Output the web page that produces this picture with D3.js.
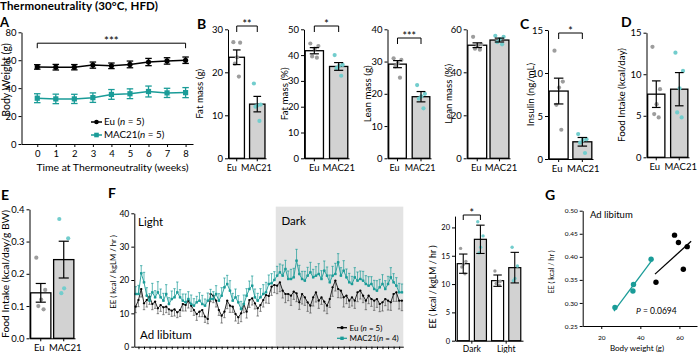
<!DOCTYPE html>
<html lang="en">
<head>
<meta charset="utf-8">
<title>Thermoneutrality (30°C, HFD)</title>
<script src="https://d3js.org/d3.v7.min.js"></script>
<style>
  body { margin: 0; background: #fff; }
  svg { display: block; font-family: Lato, "Liberation Sans", sans-serif; }
</style>
</head>
<body>
<svg id="fig" width="698" height="353"></svg>
<script>
// ---------- data ----------
var groups = ["Eu", "MAC21"];

// A: body weight over time
var weeks = [0, 1, 2, 3, 4, 5, 6, 7, 8];
var bwEu = [55.2, 55.0, 55.0, 56.5, 56.0, 57.0, 58.7, 59.5, 60.0];
var bwEuSem = [1.6, 2.0, 1.9, 2.2, 2.0, 2.4, 2.6, 2.3, 2.3];
var bwMac = [32.8, 32.3, 32.3, 33.2, 35.5, 36.0, 37.6, 36.6, 36.8];
var bwMacSem = [3.2, 3.4, 3.3, 3.4, 3.5, 3.5, 3.9, 3.3, 3.6];

// B: body composition
var fatG = [23.5, 12.6], fatGSem = [1.7, 1.8];
var fatGDots = [[27.0, 26.9, 23.5, 22.0, 19.0], [17.4, 12.5, 12.3, 12.0, 8.7]];
var fatPct = [41.7, 35.6], fatPctSem = [1.2, 1.5];
var fatPctDots = [[44.5, 43.5, 42.5, 39.5, 39.0], [40.0, 36.2, 35.8, 35.0, 32.0]];
var leanG = [29.2, 19.1], leanGSem = [1.1, 1.6];
var leanGDots = [[31.0, 30.5, 29.5, 28.5, 25.0], [22.7, 20.0, 19.2, 18.5, 15.5]];
var leanPct = [52.6, 55.0], leanPctSem = [1.1, 0.9];
var leanPctDots = [[56.5, 53.0, 52.5, 51.0, 50.5], [57.0, 56.5, 55.5, 54.0, 53.0]];

// C: insulin, D: food intake, E: food intake per BW
var insulin = [7.9, 2.0], insulinSem = [1.5, 0.5];
var insulinDots = [[12.6, 9.0, 8.3, 6.3, 3.4], [2.9, 2.3, 2.2, 1.9, 0.7]];
var foodDay = [7.6, 8.2], foodDaySem = [1.6, 2.0];
var foodDayDots = [[13.3, 8.2, 6.4, 5.2, 4.8], [12.6, 10.4, 8.3, 5.4, 4.8]];
var foodBW = [0.141, 0.244], foodBWSem = [0.029, 0.057];
var foodBWDots = [[0.25, 0.15, 0.12, 0.10, 0.09], [0.37, 0.31, 0.155, 0.14]];

// F: energy expenditure time course (light then dark)
var eeEuLight = [12, 14, 17.3, 13, 14, 15, 12.8, 13.5, 11.5, 12.5, 11.8, 12, 11.2, 10.8, 11.2, 10.3, 11, 12.8, 12.5, 13.8,
  12.3, 11, 9.8, 10.5, 11, 9, 8.3, 15.8, 15.3, 13.8, 11, 9.3, 10.5, 13.8, 12.3, 12, 9.8, 8.8, 10, 12.8,
  10.5, 14, 14.5, 13, 11.5, 12.5, 14, 15.5, 15.2, 18, 18.5];
var eeEuLightSem = [1.8, 2.0, 2.4, 1.9, 2.1, 2.3, 1.7, 2.0, 1.6, 1.9, 2.2, 1.8, 1.5, 1.7, 2.0, 1.6, 1.9, 2.1, 1.8, 2.2,
  1.7, 1.6, 1.9, 1.5, 2.0, 1.7, 1.4, 2.3, 2.1, 1.9, 1.6, 2.2, 1.8, 2.4, 2.0, 1.7, 2.1, 1.8, 2.5, 2.6,
  1.9, 2.2, 2.0, 1.7, 2.3, 1.9, 2.1, 2.4, 2.2, 2.6, 2.3];
var eeEuDark = [18.3, 19.3, 16.8, 15.8, 15.8, 15.3, 16.5, 16, 13.3, 15.8, 14.8, 13.3, 12.3, 14.8, 16.3, 13.8, 14.8, 13.5, 12.3, 14.3,
  17.8, 19.8, 17.3, 16.8, 14.8, 15.3, 13.8, 14.8, 13.8, 16.3, 16.8, 15.3, 13.8, 15.3, 14.3, 13.8, 14.3, 12.8, 13.3, 14.3,
  13.8, 13.3, 15.8, 16.3, 13.8, 13.8];
var eeEuDarkSem = [2.4, 2.8, 2.2, 2.6, 2.0, 2.9, 2.3, 2.5, 2.1, 3.0, 2.4, 2.7, 2.2, 2.6, 2.9, 2.3, 2.1, 2.8, 2.4, 2.5,
  2.7, 3.1, 2.6, 2.2, 2.9, 2.4, 2.0, 2.6, 2.3, 2.8, 2.5, 2.1, 2.7, 2.4, 2.2, 2.9, 2.5, 2.3, 2.6, 2.0,
  2.8, 2.4, 2.2, 2.7, 2.5, 3.0];
var eeMacLight = [15.8, 15.8, 22, 19.3, 15.3, 13.8, 16.3, 14.8, 16.3, 14.8, 13.8, 15.8, 12.8, 14.3, 14.8, 16.3, 14.8, 13.8, 13.3, 14.3,
  12.8, 12.3, 13.3, 13.8, 12.8, 12.3, 13.8, 14.3, 14.3, 15.8, 13.8, 15.3, 17.8, 18.8, 16.8, 13.8, 14.8, 13.3, 11.3, 12.8,
  15.3, 17.3, 18.3, 14.8, 13.8, 14.8, 15.8, 16.3, 18.8, 19, 20];
var eeMacLightSem = [2.2, 2.6, 2.3, 3.0, 2.4, 2.1, 2.7, 2.0, 3.2, 2.5, 2.2, 2.8, 1.9, 2.4, 2.6, 3.1, 2.3, 2.0, 2.5, 2.2,
  2.7, 2.1, 1.8, 2.4, 2.6, 2.0, 2.3, 2.9, 2.2, 2.5, 2.1, 2.4, 2.8, 2.6, 3.0, 2.2, 2.5, 2.0, 2.3, 2.7,
  2.1, 2.4, 2.9, 2.5, 2.2, 2.6, 2.8, 3.0, 2.7, 2.9, 2.5];
var eeMacDark = [21.3, 22.3, 21.3, 23.3, 20.3, 20.3, 20.8, 25.8, 21.8, 20.3, 19.8, 21.3, 22.3, 20.8, 21.3, 21.8, 20.3, 22.8, 21.3, 19.3,
  21.3, 21.8, 25.3, 21.3, 22.8, 20.8, 19.3, 18.8, 20.8, 19.8, 20.3, 19.8, 18.8, 18.3, 18.8, 17.3, 16.8, 17.8, 18.8, 17.3,
  18.8, 20.8, 19.3, 18.3, 16.3, 16.3];
var eeMacDarkSem = [2.8, 2.5, 3.2, 2.6, 2.4, 2.9, 2.7, 3.4, 2.6, 2.3, 2.8, 2.5, 3.0, 2.4, 2.7, 3.1, 2.5, 2.9, 2.6, 2.2,
  2.8, 3.2, 2.6, 2.4, 3.0, 2.5, 2.7, 2.3, 2.9, 2.6, 2.4, 2.8, 2.5, 2.7, 2.2, 2.6, 3.0, 2.4, 2.8, 2.5,
  2.3, 2.9, 2.6, 2.4, 2.7, 2.5];

// F right: mean EE by phase
var phases = ["Dark", "Light"];
var eePhaseEu = [13.6, 10.6], eePhaseEuSem = [1.7, 1.0];
var eePhaseMac = [17.9, 12.9], eePhaseMacSem = [2.5, 2.7];
var eePhaseEuDots = [[16.3, 14.0, 13.5, 13.0, 11.8], [12.3, 10.5, 10.4, 10.1, 9.8]];
var eePhaseMacDots = [[21.0, 18.5, 16.5, 15.5], [16.5, 13.2, 11.0, 10.6]];

// G: EE vs body weight
var gEuBW = [57.5, 59.5, 64, 62, 48], gEuEE = [0.447, 0.431, 0.422, 0.373, 0.345];
var gMacBW = [45.5, 36.5, 36.2, 27], gMacEE = [0.395, 0.34, 0.326, 0.29];
var gEuFitRange = [47.5, 66], gMacFitRange = [26.5, 46.5];

// ---------- drawing ----------
var TEAL = "#1a9c98", TEAL_DOT = "#72cdcd", GREY_DOT = "#9d9d9d", BAR_GREY = "#d2d2d2", SHADE = "#e3e3e3";
var svg = d3.select("#fig");

function fixAxis(g, fs) {
  g.attr("font-family", null).attr("font-size", null);
  g.selectAll("text").attr("font-size", fs).attr("fill", "#000");
  g.selectAll("path,line").attr("stroke", "#000").attr("stroke-width", 1);
}
function yLabel(x, y, txt, fs) {
  svg.append("text").attr("transform", "translate(" + x + "," + y + ") rotate(-90)")
    .attr("text-anchor", "middle").attr("font-size", fs).text(txt);
}
function letter(x, y, t, fs) {
  svg.append("text").attr("x", x).attr("y", y).attr("font-size", fs || 14).attr("font-weight", 700).text(t);
}
function bracket(x1, x2, y, leg, label, fs) {
  svg.append("path").attr("fill", "none").attr("stroke", "#000").attr("stroke-width", 1)
    .attr("d", "M" + x1 + "," + (y + leg) + "V" + y + "H" + x2 + "V" + (y + leg));
  svg.append("text").attr("x", (x1 + x2) / 2).attr("y", y + 2).attr("text-anchor", "middle")
    .attr("font-size", fs || 11).text(label);
}
function errBar(g, x, yLo, yHi, cap, color, w) {
  g.append("line").attr("x1", x).attr("x2", x).attr("y1", yLo).attr("y2", yHi).attr("stroke", color).attr("stroke-width", w);
  [yLo, yHi].forEach(function(yy) {
    g.append("line").attr("x1", x - cap / 2).attr("x2", x + cap / 2).attr("y1", yy).attr("y2", yy)
      .attr("stroke", color).attr("stroke-width", w);
  });
}
var jit = [-0.22, 0.22, 0.02, -0.12, 0.14];

function barPanel(p) {
  var x = d3.scaleBand().domain(groups).range([p.x0, p.x1]).paddingInner(p.pad).paddingOuter(0.05);
  var y = d3.scaleLinear().domain([0, p.max]).range([p.y1, p.y0]);
  var bw = x.bandwidth();
  var g = svg.append("g");
  g.selectAll("rect").data(groups).join("rect")
    .attr("x", function(d) { return x(d); }).attr("width", bw)
    .attr("y", function(d, i) { return y(p.mean[i]); })
    .attr("height", function(d, i) { return y(0) - y(p.mean[i]); })
    .attr("fill", function(d, i) { return i ? BAR_GREY : "#fff"; })
    .attr("stroke", "#000").attr("stroke-width", 1.3);
  p.dots.forEach(function(arr, i) {
    g.selectAll(null).data(arr).join("circle")
      .attr("cx", function(d, j) { return x(groups[i]) + bw / 2 + jit[j] * bw; })
      .attr("cy", function(d) { return y(d); })
      .attr("r", 2.1).attr("fill", i ? TEAL_DOT : GREY_DOT);
  });
  groups.forEach(function(gr, i) {
    errBar(g, x(gr) + bw / 2, y(p.mean[i] - p.sem[i]), y(p.mean[i] + p.sem[i]), bw * 0.5, "#000", 1.2);
  });
  var ya = g.append("g").attr("transform", "translate(" + p.x0 + ",0)")
    .call(d3.axisLeft(y).tickValues(p.ticks).tickSize(3).tickPadding(2).tickSizeOuter(0).tickFormat(p.fmt || d3.format("d")));
  fixAxis(ya, 9.5);
  var xa = g.append("g").attr("transform", "translate(0," + p.y1 + ")")
    .call(d3.axisBottom(x).tickSize(3).tickPadding(3).tickSizeOuter(0));
  fixAxis(xa, p.catFs || 9.5);
  if (p.lblDx) xa.selectAll(".tick text").attr("dx", function(d, i) { return p.lblDx[i]; });
  yLabel(p.labelX, p.labelY || (p.y0 + p.y1) / 2, p.label, p.labelFs || 9.8);
  if (p.sig) {
    var c0 = x(groups[0]) + bw / 2, c1 = x(groups[1]) + bw / 2;
    bracket(c0, c1, p.sigY, 6, p.sig, 10.5);
  }
}

// Title and letters
svg.append("text").attr("x", 0).attr("y", 10).attr("font-size", 11.5).attr("font-weight", 700)
  .attr("textLength", 158).attr("lengthAdjust", "spacing").text("Thermoneutrality (30°C, HFD)");
letter(0, 26.5, "A", 13); letter(197, 29, "B"); letter(520, 29, "C"); letter(621, 27, "D");
letter(1, 200, "E"); letter(108, 198, "F"); letter(545, 200, "G");

// ---- A ----
(function() {
  var x = d3.scaleLinear().domain([-0.85, 8.4]).range([21.5, 193]);
  var y = d3.scaleLinear().domain([0, 80]).range([144, 32.3]);
  var g = svg.append("g");
  var ya = g.append("g").attr("transform", "translate(21.5,0)")
    .call(d3.axisLeft(y).tickValues([0, 20, 40, 60, 80]).tickSize(3).tickPadding(2).tickSizeOuter(0));
  fixAxis(ya, 9.5);
  var xa = g.append("g").attr("transform", "translate(0,144)")
    .call(d3.axisBottom(x).tickValues(weeks).tickSize(3).tickPadding(3).tickSizeOuter(0));
  fixAxis(xa, 9.5);
  var line = d3.line().x(function(d, i) { return x(weeks[i]); }).y(function(d) { return y(d); });
  [[bwEu, bwEuSem, "#000"], [bwMac, bwMacSem, TEAL]].forEach(function(s, k) {
    g.append("path").datum(s[0]).attr("d", line).attr("fill", "none").attr("stroke", s[2]).attr("stroke-width", 1.5);
    s[0].forEach(function(v, i) {
      errBar(g, x(weeks[i]), y(v - s[1][i]), y(v + s[1][i]), 6.5, s[2], 1.3);
      if (k === 0) g.append("circle").attr("cx", x(weeks[i])).attr("cy", y(v)).attr("r", 2.6).attr("fill", s[2]);
      else g.append("rect").attr("x", x(weeks[i]) - 2.6).attr("y", y(v) - 2.6).attr("width", 5.2).attr("height", 5.2).attr("fill", s[2]);
    });
  });
  bracket(x(0), x(8), y(72.2), 5, "***", 11.5);
  yLabel(9.5, 80, "Body Weight (g)", 10.5);
  svg.append("text").attr("x", (x(0) + x(8)) / 2 + 1).attr("y", 170.5).attr("text-anchor", "middle")
    .attr("font-size", 10.4).text("Time at Thermoneutrality (weeks)");
  // legend
  [["Eu", "#000", 122, "5"], ["MAC21", TEAL, 135, "5"]].forEach(function(l, k) {
    g.append("line").attr("x1", 91).attr("x2", 102).attr("y1", l[2]).attr("y2", l[2]).attr("stroke", l[1]).attr("stroke-width", 1.5);
    if (k === 0) g.append("circle").attr("cx", 96.5).attr("cy", l[2]).attr("r", 2.3).attr("fill", l[1]);
    else g.append("rect").attr("x", 94.2).attr("y", l[2] - 2.3).attr("width", 4.6).attr("height", 4.6).attr("fill", l[1]);
    var t = g.append("text").attr("x", 104).attr("y", l[2] + 3.4).attr("font-size", 9.8);
    t.append("tspan").text(l[0] + (k === 0 ? " (" : "("));
    t.append("tspan").attr("font-style", "italic").text("n");
    t.append("tspan").text(" = " + l[3] + ")");
  });
})();

// ---- B, C, D, E bar panels ----
barPanel({ x0: 228, x1: 266, y0: 29.3, y1: 158.3, max: 30, ticks: [0, 10, 20, 30], pad: 0.25, lblDx: [-5, -1], catFs: 9,
  mean: fatG, sem: fatGSem, dots: fatGDots, label: "Fat mass (g)", labelX: 203, sig: "**", sigY: 26 });
barPanel({ x0: 304, x1: 349, y0: 29.3, y1: 158.3, max: 50, ticks: [0, 10, 20, 30, 40, 50], pad: 0.25,
  mean: fatPct, sem: fatPctSem, dots: fatPctDots, label: "Fat mass (%)", labelX: 288, sig: "*", sigY: 26 });
barPanel({ x0: 387.5, x1: 431, y0: 29.3, y1: 158.3, max: 40, ticks: [0, 10, 20, 30, 40], pad: 0.25, lblDx: [-3, -1], catFs: 9,
  mean: leanG, sem: leanGSem, dots: leanGDots, label: "Lean mass (g)", labelX: 371, sig: "***", sigY: 38 });
barPanel({ x0: 466.7, x1: 510, y0: 29.3, y1: 158.3, max: 60, ticks: [0, 20, 40, 60], pad: 0.15, lblDx: [-1, 1.5],
  mean: leanPct, sem: leanPctSem, dots: leanPctDots, label: "Lean mass (%)", labelX: 452 });
barPanel({ x0: 548, x1: 593, y0: 30, y1: 159, max: 15, ticks: [0, 5, 10, 15], pad: 0.2, lblDx: [-1.5, 1],
  mean: insulin, sem: insulinSem, dots: insulinDots, label: "Insulin (ng/mL)", labelX: 534, sig: "*", sigY: 33 });
barPanel({ x0: 646.5, x1: 689, y0: 32.7, y1: 157.3, max: 15, ticks: [0, 5, 10, 15], pad: 0.25, lblDx: [-1.5, 1.5],
  mean: foodDay, sem: foodDaySem, dots: foodDayDots, label: "Food Intake (kcal/day)", labelX: 625 });
barPanel({ x0: 29.5, x1: 75, y0: 209.3, y1: 338.3, max: 0.4, ticks: [0, 0.1, 0.2, 0.3, 0.4], pad: 0.12, lblDx: [-1.5, 1.5],
  fmt: d3.format(".1f"), mean: foodBW, sem: foodBWSem, dots: foodBWDots, label: "Food Intake (kcal/day/g BW)",
  labelX: 9, labelY: 274, labelFs: 10.3 });

// ---- F time course ----
(function() {
  var eu = eeEuLight.concat(eeEuDark), euSem = eeEuLightSem.concat(eeEuDarkSem);
  var mac = eeMacLight.concat(eeMacDark), macSem = eeMacLightSem.concat(eeMacDarkSem);
  var n = eu.length, darkStart = eeEuLight.length;
  var x = d3.scaleLinear().domain([-0.5, n - 0.5]).range([134.3, 403.3]);
  var y = d3.scaleLinear().domain([0, 40]).range([346.7, 213.3]);
  var g = svg.append("g");
  g.append("rect").attr("x", x(darkStart - 0.5)).attr("width", x(n - 0.5) - x(darkStart - 0.5))
    .attr("y", y(42)).attr("height", y(0) - y(42)).attr("fill", SHADE);
  var line = d3.line().x(function(d, i) { return x(i); }).y(function(d) { return y(d); });
  // Eu (black): error down
  eu.forEach(function(v, i) {
    errBar(g, x(i), y(v), y(v - euSem[i]), 2.4, "#555", 0.7);
  });
  g.append("path").datum(eu).attr("d", line).attr("fill", "none").attr("stroke", "#111").attr("stroke-width", 0.9);
  eu.forEach(function(v, i) { g.append("circle").attr("cx", x(i)).attr("cy", y(v)).attr("r", 1.1).attr("fill", "#000"); });
  // MAC21 (teal): error up
  mac.forEach(function(v, i) {
    errBar(g, x(i), y(v), y(v + macSem[i]), 2.4, TEAL, 0.7);
  });
  g.append("path").datum(mac).attr("d", line).attr("fill", "none").attr("stroke", TEAL).attr("stroke-width", 0.9);
  mac.forEach(function(v, i) { g.append("rect").attr("x", x(i) - 1.2).attr("y", y(v) - 1.2).attr("width", 2.4).attr("height", 2.4).attr("fill", TEAL); });

  var ya = g.append("g").attr("transform", "translate(134.3,0)")
    .call(d3.axisLeft(y).tickValues([0, 10, 20, 30, 40]).tickSize(3).tickPadding(2).tickSizeOuter(0));
  fixAxis(ya, 8.5);
  var xa = g.append("g").attr("transform", "translate(0,346.7)")
    .call(d3.axisBottom(x).tickValues(d3.range(1, n, 2)).tickSize(2.5).tickSizeOuter(0).tickFormat(""));
  fixAxis(xa, 8);
  yLabel(116, 272, "EE ( kcal / kgLM / hr )", 7.8);
  svg.append("text").attr("x", 138).attr("y", 225.5).attr("font-size", 11.5).text("Light");
  svg.append("text").attr("x", 281.5).attr("y", 225).attr("font-size", 11.5).text("Dark");
  svg.append("text").attr("x", 140).attr("y", 339).attr("font-size", 11.5).text("Ad libitum");
  [["Eu", "#000", 327.7, "5", " ("], ["MAC21", TEAL, 338.3, "4", "("]].forEach(function(l, k) {
    g.append("line").attr("x1", 337).attr("x2", 347).attr("y1", l[2]).attr("y2", l[2]).attr("stroke", l[1]).attr("stroke-width", 1.2);
    if (k === 0) g.append("circle").attr("cx", 342).attr("cy", l[2]).attr("r", 1.6).attr("fill", l[1]);
    else g.append("rect").attr("x", 340.3).attr("y", l[2] - 1.7).attr("width", 3.4).attr("height", 3.4).attr("fill", l[1]);
    var t = g.append("text").attr("x", 349.5).attr("y", l[2] + 2.8).attr("font-size", 8);
    t.append("tspan").text(l[0] + l[4]);
    t.append("tspan").attr("font-style", "italic").text("n");
    t.append("tspan").text(" = " + l[3] + ")");
  });
})();

// ---- F right: phase bars ----
(function() {
  var x0 = d3.scaleBand().domain(phases).range([455, 523]).paddingInner(0.12).paddingOuter(0.05);
  var x1 = d3.scaleBand().domain(groups).range([0, x0.bandwidth()]).paddingInner(0.3).paddingOuter(0.03);
  var y = d3.scaleLinear().domain([0, 22]).range([340.7, 216.1]);
  var bw = x1.bandwidth();
  var g = svg.append("g");
  var means = [eePhaseEu, eePhaseMac], sems = [eePhaseEuSem, eePhaseMacSem], dots = [eePhaseEuDots, eePhaseMacDots];
  phases.forEach(function(ph, pi) {
    groups.forEach(function(gr, gi) {
      var bx = x0(ph) + x1(gr), m = means[gi][pi], s = sems[gi][pi];
      g.append("rect").attr("x", bx).attr("width", bw).attr("y", y(m)).attr("height", y(0) - y(m))
        .attr("fill", gi ? BAR_GREY : "#fff").attr("stroke", "#000").attr("stroke-width", 1.2);
      dots[gi][pi].forEach(function(v, j) {
        g.append("circle").attr("cx", bx + bw / 2 + jit[j] * bw).attr("cy", y(v)).attr("r", 1.7)
          .attr("fill", gi ? TEAL_DOT : GREY_DOT);
      });
      errBar(g, bx + bw / 2, y(m - s), y(m + s), bw * 0.7, "#000", 1.1);
    });
  });
  var ya = g.append("g").attr("transform", "translate(455,0)")
    .call(d3.axisLeft(y).tickValues([0, 5, 10, 15, 20]).tickSize(3).tickPadding(2).tickSizeOuter(0));
  fixAxis(ya, 7.5);
  var xa = g.append("g").attr("transform", "translate(0,340.7)")
    .call(d3.axisBottom(x0).tickSize(3).tickPadding(2).tickSizeOuter(0));
  fixAxis(xa, 8.5);
  yLabel(436, 287, "EE ( kcal / kgLM / hr )", 8.8);
  var c0 = x0("Dark") + x1("Eu") + bw / 2, c1 = x0("Dark") + x1("MAC21") + bw / 2;
  bracket(c0, c1, 215, 5, "*", 10.5);
})();

// ---- G: EE vs body weight ----
(function() {
  var x = d3.scaleLinear().domain([10.5, 69]).range([582.7, 697]);
  var y = d3.scaleLinear().domain([0.25, 0.5]).range([326, 210.7]);
  var g = svg.append("g");
  var ya = g.append("g").attr("transform", "translate(582.7,0)")
    .call(d3.axisLeft(y).tickValues([0.25, 0.30, 0.35, 0.40, 0.45, 0.50]).tickSize(3).tickPadding(2).tickSizeOuter(0).tickFormat(d3.format(".2f")));
  fixAxis(ya, 6.5);
  var xa = g.append("g").attr("transform", "translate(0,326)")
    .call(d3.axisBottom(x).tickValues([20, 40, 60]).tickSize(3).tickPadding(6).tickSizeOuter(0));
  fixAxis(xa, 6.5);
  function fit(xs, ys) {
    var mx = d3.mean(xs), my = d3.mean(ys);
    var sxy = d3.sum(xs, function(v, i) { return (v - mx) * (ys[i] - my); });
    var sxx = d3.sum(xs, function(v) { return (v - mx) * (v - mx); });
    var b = sxy / sxx;
    return function(v) { return my + b * (v - mx); };
  }
  [[gMacBW, gMacEE, gMacFitRange, TEAL], [gEuBW, gEuEE, gEuFitRange, "#000"]].forEach(function(s) {
    var f = fit(s[0], s[1]);
    g.append("line").attr("x1", x(s[2][0])).attr("x2", x(s[2][1])).attr("y1", y(f(s[2][0]))).attr("y2", y(f(s[2][1])))
      .attr("stroke", s[3]).attr("stroke-width", 1.3);
    g.selectAll(null).data(s[0]).join("circle")
      .attr("cx", function(d) { return x(d); }).attr("cy", function(d, i) { return y(s[1][i]); })
      .attr("r", 2.7).attr("fill", s[3]);
  });
  yLabel(554, 272, "EE ( kcal / hr )", 7.2);
  svg.append("text").attr("x", 637).attr("y", 351).attr("text-anchor", "middle").attr("font-size", 8).text("Body weight (g)");
  svg.append("text").attr("x", 590).attr("y", 217.5).attr("font-size", 9.5).text("Ad libitum");
  var t = svg.append("text").attr("x", 636).attr("y", 313.5).attr("font-size", 8.5);
  t.append("tspan").attr("font-style", "italic").text("P");
  t.append("tspan").text(" = 0.0694");
})();
</script>
</body>
</html>
